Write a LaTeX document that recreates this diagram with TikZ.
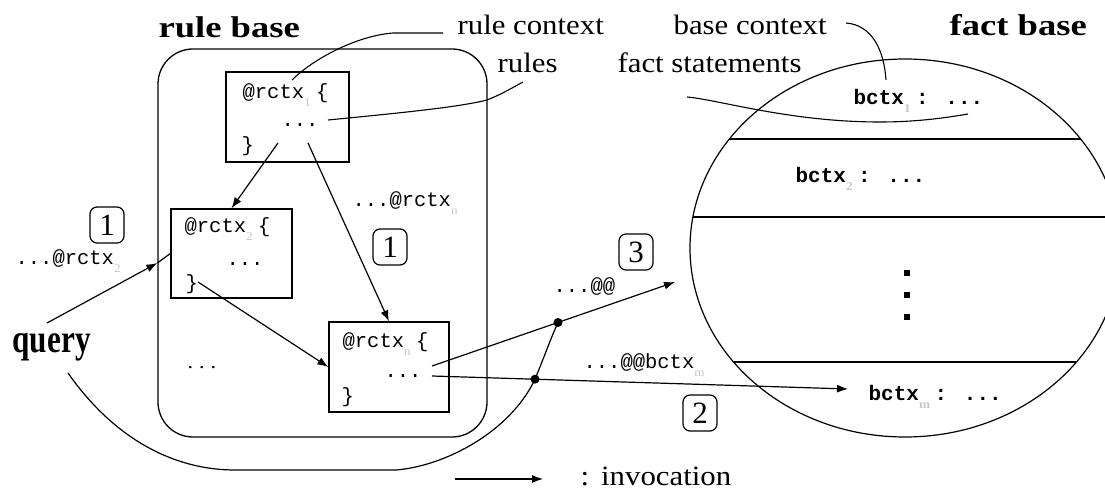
\documentclass[tikz,border=0pt]{standalone}
\usepackage{fontspec}
\newfontfamily\lblfont[FakeStretch=1.1]{Liberation Serif}
\newfontfamily\ttlfont[FakeStretch=1.22]{Liberation Serif}
\newfontfamily\qfont[FakeStretch=0.78]{Liberation Serif}
\newfontfamily\tagfont{Liberation Serif}
\newfontfamily\codefont{Liberation Mono}
\usetikzlibrary{shapes.geometric,arrows.meta,calc}
\definecolor{subgray}{gray}{0.78}
% light grey index set below the line, one mono cell wide
\newcommand\csub[1]{\makebox[12pt][l]{\raisebox{-8pt}{\color{subgray}\lblfont\fontsize{12}{12}\selectfont #1}}}
\tikzset{
  box/.style={draw, rectangle, inner sep=0pt, line width=1.3pt},
  tag/.style={draw, rounded corners=7pt, inner sep=0pt, minimum width=34pt,
    minimum height=36pt, line width=1.2pt, font=\tagfont\fontsize{31}{31}\selectfont},
  lbl/.style={inner sep=0pt, anchor=base west, font=\lblfont\fontsize{28}{28}\selectfont},
  ttl/.style={inner sep=0pt, anchor=base west, font=\ttlfont\bfseries\fontsize{30}{30}\selectfont},
  code/.style={inner sep=0pt, anchor=base west, font=\codefont\fontsize{20.5}{20.5}\selectfont},
  bcode/.style={inner sep=0pt, anchor=base west, font=\codefont\bfseries\fontsize{21}{21}\selectfont},
  inv/.style={line width=1.2pt, -{Latex[length=11pt,width=8pt]}},
  leader/.style={line width=1.1pt},
  junction/.style={circle, fill, inner sep=0pt, minimum size=9pt},
  vdot/.style={rectangle, fill, inner sep=0pt, minimum size=6pt},
}
\begin{document}
\begin{tikzpicture}[x=1pt,y=-1pt,line width=1.2pt]
\clip (0,0) rectangle (1105,489);

% ---------- rule base ----------
\node[draw, rounded corners=35pt, minimum width=329pt, minimum height=388pt,
      inner sep=0pt, line width=1.3pt] (rulebase) at (322.5,243) {};
\node[ttl] (rbtitle) at (158,38) {rule base};

\node[box, minimum width=123pt, minimum height=90pt] (box1) at (287.5,117) {};
\node[box, minimum width=121pt, minimum height=89pt] (box2) at (231.5,253.5) {};
\node[box, minimum width=120pt, minimum height=90pt] (boxn) at (389,367) {};

\node[code] (r1a) at (242,99) {@rctx\csub{1}\{};
\node[code] (r1b) at (281,127) {...};
\node[code] (r1c) at (241,152) {\}};

\node[code] (r2a) at (184,233) {@rctx\csub{2}\{};
\node[code] (r2b) at (226,265) {...};
\node[code] (r2c) at (185,289) {\}};

\node[code] (rna) at (342,347) {@rctx\csub{n}\{};
\node[code] (rnb) at (384,377) {...};
\node[code] (rnc) at (341,402) {\}};

\node[lbl, font=\lblfont\fontsize{20}{20}\selectfont] (rdots) at (187,368)
      {.\hspace{6pt}.\hspace{6pt}.};

% ---------- fact base ----------
\node[draw, ellipse, minimum width=430pt, minimum height=378pt, inner sep=0pt,
      line width=1.2pt] (factbase) at (905,248) {};
\begin{scope}
  \clip (905,248) ellipse [x radius=215, y radius=189];
  \draw (600,139) -- (1200,139);
  \draw (600,217) -- (1200,217);
  \draw (600,362) -- (1200,362);
\end{scope}
\node[ttl] (fbtitle) at (949,36) {fact base};

\node[bcode] (b1) at (853,105) {bctx\csub{1}: ...};
\node[bcode] (b2) at (795,183) {bctx\csub{2}: ...};
\node[bcode] (bm) at (868,400) {bctx\csub{m}\,: ...};
\node[vdot] (vd1) at (907,273) {};
\node[vdot] (vd2) at (907,295) {};
\node[vdot] (vd3) at (907,317) {};

% ---------- annotations ----------
\node[lbl] (rctxlbl) at (457,35) {rule context};
\node[lbl] (ruleslbl) at (497,73) {rules};
\node[lbl] (bctxlbl) at (673,35) {base context};
\node[lbl] (factlbl) at (617,73) {fact statements};

\coordinate (rcA) at (443,33);
\coordinate (rcB) at (292,80);
\draw[leader] (rcA) -- (393,33) .. controls (355,36) and (312,60) .. (rcB);
\coordinate (rlA) at (523,82);
\coordinate (rlB) at (328,120);
\draw[leader] (rlB) .. controls (400,113) and (460,107) .. (487,100)
                    .. controls (500,95) and (512,88) .. (rlA);
\coordinate (bcA) at (846,23);
\coordinate (bcB) at (886,80);
\draw[leader] (bcA) .. controls (872,25) and (884,50) .. (bcB);
\coordinate (fsA) at (687,97);
\coordinate (fsB) at (968,114);
\draw[leader] (fsA) .. controls (720,100) and (790,122) .. (880,122)
                    .. controls (920,122) and (950,117) .. (fsB);

% ---------- query and invocations ----------
\node[inner sep=0pt, anchor=base west, font=\qfont\bfseries\fontsize{40}{40}\selectfont]
      (query) at (12,352) {query};

\node[tag] (t1a) at (107,225) {1};
\node[tag] (t1b) at (390,247) {1};
\node[tag] (t3) at (636,252) {3};
\node[tag] (t2) at (700,413) {2};

\node[code] (l2) at (15,264) {...@rctx\csub{2}};
\node[code] (ln) at (352,207) {...@rctx\csub{n}};
\node[code] (l3) at (553,292) {...@@};
\node[code] (lm) at (583,368) {...@@bctx\csub{m}};

\coordinate (s12) at (278,143);
\coordinate (s1n) at (308,143);
\coordinate (s2n) at (198,282);
\draw[inv] (s12) -- (box2.north);
\draw[inv] (s1n) -- (boxn.north);
\draw[inv] (s2n) -- (boxn.west);

% query enters the rule base, then reaches the second rule context
\coordinate (qa) at (47,323);
\coordinate (qx) at (rulebase.west |- 0,263);
\draw[inv] (qa) -- (qx);
\draw (qx) -- (box2.west);

\coordinate (on1) at (432,366);
\coordinate (on2) at (432,376);
\coordinate (tip3) at (675,282);
\coordinate (tip2) at ($(bm.base west)+(-20,-11)$);
\draw[inv] (on1) -- (tip3);
\draw[inv] (on2) -- (tip2);

\node[junction] (jup) at (558,322.5) {};
\node[junction] (jlow) at (535,379.2) {};
\coordinate (qb) at (68,373);
\draw (qb) .. controls (115,440) and (175,470) .. (235,470) -- (396,470)
      .. controls (445,466) and (510,432) .. (jlow.center)
      .. controls (545,355) and (550,340) .. (jup.center);

% ---------- legend ----------
\coordinate (lgA) at (455,479);
\coordinate (lgB) at (543,479);
\draw[inv] (lgA) -- (lgB);
\node[lbl] (legend) at (580,485) {:\hspace{12pt}invocation};
\end{tikzpicture}
\end{document}
